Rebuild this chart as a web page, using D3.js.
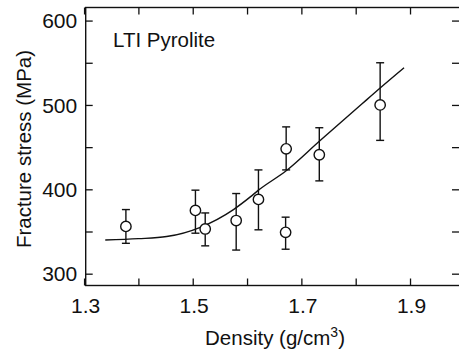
<!DOCTYPE html>
<html>
<head>
<meta charset="utf-8">
<script src="https://cdn.jsdelivr.net/npm/d3@7/dist/d3.min.js"></script>
<style>
  body { margin: 0; background: #fff; }
  svg { display: block; }
  text { font-family: "Liberation Sans", Arial, Helvetica, sans-serif; fill: #111; }
</style>
</head>
<body>
<div id="chart"></div>
<script>
// measured points (density, stress, error)
const density = [1.377, 1.505, 1.523, 1.580, 1.621, 1.672, 1.671, 1.733, 1.845]
const stress = [356, 375, 353, 363, 388, 448, 349, 441, 500]
const errUp = [20, 24, 19, 32, 35, 26, 18, 32, 50]
const errDown = [20, 27, 20, 35, 36, 25, 20, 31, 42]

// fitted curve
const fitX = [1.339, 1.40, 1.452, 1.514, 1.575, 1.606, 1.621, 1.672, 1.733, 1.820, 1.845, 1.889]
const fitY = [340, 341.5, 344, 355, 376, 391, 399, 422, 457, 506, 520, 544]

const xTicks = [1.3, 1.4, 1.5, 1.6, 1.7, 1.8, 1.9]
const xLabels = [1.3, 1.5, 1.7, 1.9]
const yTicks = [300, 350, 400, 450, 500, 550, 600]
const yLabels = [300, 400, 500, 600]

const width = 459
const height = 352
const plot = { left: 85.7, right: 460, top: 7.5, bottom: 285.5 }

const x = d3.scaleLinear().domain([1.303, 1.992]).range([plot.left, plot.right])
const y = d3.scaleLinear().domain([286, 615.5]).range([plot.bottom, plot.top])

const svg = d3.select('#chart').append('svg')
  .attr('width', width)
  .attr('height', height)

const tickLen = 7
const fmtX = d3.format('.1f')

// frame
svg.append('rect')
  .attr('x', plot.left).attr('y', plot.top)
  .attr('width', plot.right - plot.left).attr('height', plot.bottom - plot.top)
  .attr('fill', 'none').attr('stroke', '#111').attr('stroke-width', 1.4)

// axes with inward ticks
svg.append('g')
  .attr('transform', `translate(0,${plot.bottom})`)
  .call(d3.axisBottom(x).tickValues(xTicks).tickSizeInner(-tickLen).tickSizeOuter(0).tickFormat(''))
svg.append('g')
  .attr('transform', `translate(0,${plot.top})`)
  .call(d3.axisTop(x).tickValues(xTicks).tickSizeInner(-tickLen).tickSizeOuter(0).tickFormat(''))
svg.append('g')
  .attr('transform', `translate(${plot.left},0)`)
  .call(d3.axisLeft(y).tickValues(yTicks).tickSizeInner(-tickLen).tickSizeOuter(0).tickFormat(''))
svg.append('g')
  .attr('transform', `translate(${plot.right - 1},0)`)
  .call(d3.axisRight(y).tickValues(yTicks).tickSizeInner(-tickLen).tickSizeOuter(0).tickFormat(''))

svg.selectAll('.domain').remove()
svg.selectAll('.tick line').attr('stroke', '#111').attr('stroke-width', 1.3)

// tick labels
svg.selectAll('.xlab')
  .data(xLabels)
  .enter()
  .append('text')
  .attr('x', d => x(d) + 1.5)
  .attr('y', 313)
  .attr('text-anchor', 'middle')
  .attr('font-size', 21)
  .text(d => fmtX(d))

svg.selectAll('.ylab')
  .data(yLabels)
  .enter()
  .append('text')
  .attr('x', plot.left - 8.5)
  .attr('y', d => y(d))
  .attr('dy', '0.36em')
  .attr('text-anchor', 'end')
  .attr('font-size', 21)
  .text(d => d)

// axis titles
const xt = svg.append('text')
  .attr('x', 275)
  .attr('y', 345)
  .attr('text-anchor', 'middle')
  .attr('font-size', 20.5)
xt.append('tspan').text('Density (g/cm')
xt.append('tspan').attr('dy', -8).attr('font-size', 14).text('3')
xt.append('tspan').attr('dy', 8).text(')')

svg.append('text')
  .attr('transform', `translate(31,149) rotate(-90)`)
  .attr('text-anchor', 'middle')
  .attr('font-size', 20.5)
  .text('Fracture stress (MPa)')

svg.append('text')
  .attr('x', 113)
  .attr('y', 47)
  .attr('font-size', 20.5)
  .text('LTI Pyrolite')

// fitted curve
const line = d3.line()
  .x(d => x(d[0]))
  .y(d => y(d[1]))
  .curve(d3.curveMonotoneX)
svg.append('path')
  .datum(fitX.map((d, i) => [d, fitY[i]]))
  .attr('d', line)
  .attr('fill', 'none')
  .attr('stroke', '#111')
  .attr('stroke-width', 1.4)

// error bars and markers
const pts = density.map((d, i) => ({ x: d, y: stress[i], hi: stress[i] + errUp[i], lo: stress[i] - errDown[i] }))
const g = svg.append('g').attr('stroke', '#111').attr('stroke-width', 1.4)
g.selectAll('.eb')
  .data(pts)
  .enter()
  .append('line')
  .attr('x1', d => x(d.x)).attr('x2', d => x(d.x))
  .attr('y1', d => y(d.hi)).attr('y2', d => y(d.lo))
g.selectAll('.capHi')
  .data(pts)
  .enter()
  .append('line')
  .attr('x1', d => x(d.x) - 4).attr('x2', d => x(d.x) + 4)
  .attr('y1', d => y(d.hi)).attr('y2', d => y(d.hi))
g.selectAll('.capLo')
  .data(pts)
  .enter()
  .append('line')
  .attr('x1', d => x(d.x) - 4).attr('x2', d => x(d.x) + 4)
  .attr('y1', d => y(d.lo)).attr('y2', d => y(d.lo))
g.selectAll('circle')
  .data(pts)
  .enter()
  .append('circle')
  .attr('cx', d => x(d.x))
  .attr('cy', d => y(d.y))
  .attr('r', 5.2)
  .attr('fill', '#fff')
</script>
</body>
</html>
